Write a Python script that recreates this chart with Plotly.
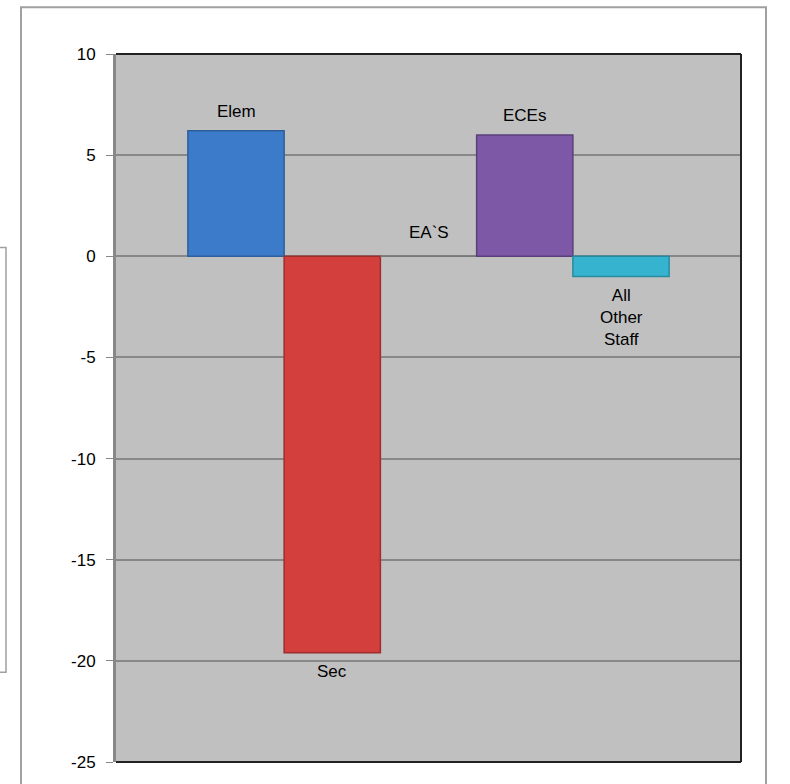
import plotly.graph_objects as go

series = ["Elem", "Sec", "EA`S", "ECEs", "All<br>Other<br>Staff"]
values = [6.2, -19.6, 0.0, 6.0, -1.0]
colors = ["#3b7bc9", "#d23f3d", "#999999", "#7c58a6", "#36b3cf"]
edge_colors = ["#2d5f9c", "#9c2f2e", "#777777", "#5b3f7c", "#2a8aa0"]
category = ["Staff"]
y_ticks = [10, 5, 0, -5, -10, -15, -20, -25]
y_tick_text = ["10", "5", "0", "-5", "-10", "-15", "-20", "-25"]

fig = go.Figure()
for name, v, c, ec in zip(series, values, colors, edge_colors):
    fig.add_trace(go.Bar(x=category, y=[v], name=name, marker=dict(color=c, line=dict(color=ec, width=1.5)),
                         showlegend=False))

offsets = [-2, -1, 0, 1, 2]
n = len(series)
gw = 0.77
bw = gw / n
for name, v, off in zip(series, values, offsets):
    xc = off * bw
    if v > 0:
        fig.add_annotation(x=xc, y=v, text=name, showarrow=False, yanchor="bottom", yshift=8,
                           xref="x", yref="y")
    elif v < 0:
        fig.add_annotation(x=xc, y=v, text=name, showarrow=False, yanchor="top", yshift=-7,
                           xref="x", yref="y")
    else:
        fig.add_annotation(x=xc, y=v, text=name, showarrow=False, yanchor="bottom", yshift=12,
                           xref="x", yref="y")

W, H = 790, 784
ml, mr, mt, mb = 116, 49, 54, 20
pw, ph = W - ml - mr, H - mt - mb

def px(x):
    return (x - ml) / pw

def py(y):
    return (H - mb - y) / ph

shapes = [
    dict(type="rect", xref="paper", yref="paper", x0=px(21), x1=px(766), y0=py(800), y1=py(7),
         line=dict(color="#a0a0a0", width=2), layer="below"),
    dict(type="rect", xref="paper", yref="paper", x0=px(-10), x1=px(6), y0=py(674), y1=py(248),
         line=dict(color="#a0a0a0", width=1.5), layer="below"),
    dict(type="line", xref="paper", yref="paper", x0=0, x1=1, y0=1, y1=1, line=dict(color="#222", width=2)),
    dict(type="line", xref="paper", yref="paper", x0=1, x1=1, y0=0, y1=1, line=dict(color="#222", width=2)),
    dict(type="line", xref="paper", yref="paper", x0=0, x1=1, y0=0, y1=0, line=dict(color="#222", width=2)),
]

fig.update_layout(
    width=W, height=H,
    margin=dict(l=ml, r=mr, t=mt, b=mb),
    paper_bgcolor="white",
    plot_bgcolor="#c0c0c0",
    barmode="group",
    bargap=0.23,
    bargroupgap=0,
    shapes=shapes,
    font=dict(family="Liberation Sans, Arial, sans-serif", size=17, color="#000"),
    annotationdefaults=dict(font=dict(size=17, color="#000")),
)
fig.update_xaxes(visible=False, range=[-0.5, 0.5])
fig.update_yaxes(range=[-25, 10], tickvals=y_ticks, ticktext=y_tick_text, ticks="outside", ticklen=7,
                 tickcolor="#888", ticklabelstandoff=7,
                 showgrid=True, gridcolor="#888", gridwidth=1.5, zeroline=False,
                 showline=True, linecolor="#888", linewidth=3,
                 tickfont=dict(size=17, color="#000"))

fig.write_html("out.html")
